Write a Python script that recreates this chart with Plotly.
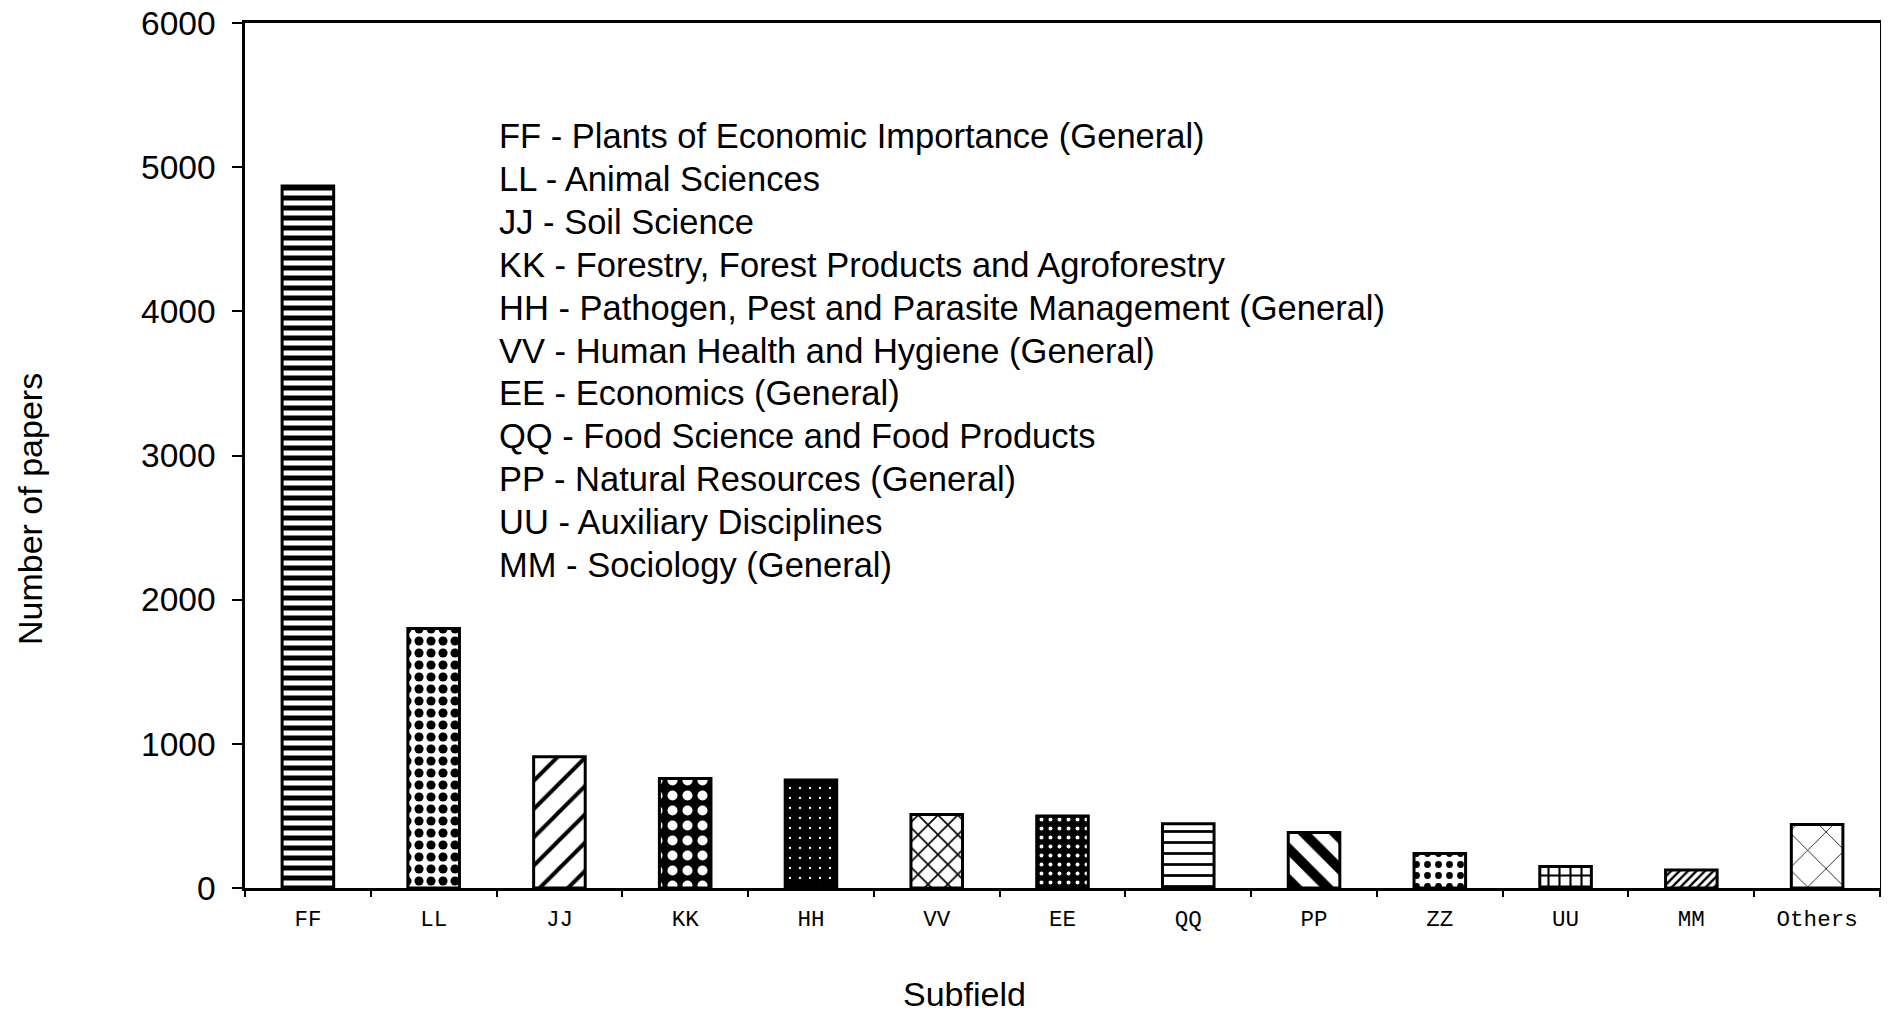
import plotly.graph_objects as go

# ---- data ----
categories = ["FF", "LL", "JJ", "KK", "HH", "VV", "EE", "QQ", "PP", "ZZ", "UU", "MM", "Others"]
papers = [4870, 1800, 910, 760, 750, 510, 500, 445, 385, 240, 150, 125, 440]

key_lines = [
    "FF - Plants of Economic Importance (General)",
    "LL - Animal Sciences",
    "JJ - Soil Science",
    "KK - Forestry, Forest Products and Agroforestry",
    "HH - Pathogen, Pest and Parasite Management (General)",
    "VV - Human Health and Hygiene (General)",
    "EE - Economics (General)",
    "QQ - Food Science and Food Products",
    "PP - Natural Resources (General)",
    "UU - Auxiliary Disciplines",
    "MM - Sociology (General)",
]

y_ticks = [0, 1000, 2000, 3000, 4000, 5000, 6000]

# ---- styling (fill patterns per bar) ----
pat_shape = ["-", ".", "/", ".", ".", "x", ".", "-", "\\", ".", "+", "/", "x"]
pat_fg = ["black", "black", "black", "white", "white", "black", "white",
          "black", "black", "black", "black", "black", "black"]
pat_bg = ["white", "white", "white", "black", "black", "white", "black",
          "white", "white", "white", "white", "white", "white"]
pat_size = [10, 12, 20, 15, 10, 14, 9, 11, 22, 11, 11, 6, 26]
pat_solid = [0.5, 0.45, 0.2, 0.35, 0.04, 0.22, 0.15, 0.25, 0.45, 0.3, 0.35, 0.4, 0.06]

SANS = "Liberation Sans, Arial, sans-serif"
MONO = "Liberation Mono, Courier New, monospace"

# page offset (default body margin) and plot-area geometry in figure pixels
OFF = 8
W, H = 1881, 1004
L, R, T, B = 237, 9, 15, 124
PW, PH = W - L - R, H - T - B


def px_x(x):
    # screen x -> paper coordinate
    return (x - OFF - L) / PW


def px_y(y):
    # screen y -> paper coordinate
    return (H - B - (y - OFF)) / PH


fig = go.Figure()
fig.add_trace(go.Bar(
    x=categories,
    y=papers,
    width=0.41,
    marker=dict(
        color="white",
        line=dict(color="black", width=3),
        pattern=dict(
            shape=pat_shape,
            fgcolor=pat_fg,
            bgcolor=pat_bg,
            size=pat_size,
            solidity=pat_solid,
            fillmode="replace",
        ),
    ),
    hoverinfo="x+y",
))

annotations = [
    dict(
        text="Number of papers",
        xref="paper", yref="paper",
        x=px_x(30), y=px_y(509),
        xanchor="center", yanchor="middle",
        textangle=-90,
        showarrow=False,
        font=dict(family=SANS, size=34, color="black"),
    ),
    dict(
        text="Subfield",
        xref="paper", yref="paper",
        x=px_x(964), y=px_y(994),
        xanchor="center", yanchor="middle",
        showarrow=False,
        font=dict(family=SANS, size=34, color="black"),
    ),
]
for i, line in enumerate(key_lines):
    annotations.append(dict(
        text=line,
        xref="paper", yref="paper",
        x=px_x(497), y=px_y(136 + i * 42.9),
        xanchor="left", yanchor="middle",
        align="left",
        showarrow=False,
        font=dict(family=SANS, size=34.5, color="black"),
    ))

fig.update_layout(
    width=W,
    height=H,
    margin=dict(l=L, r=R, t=T, b=B),
    paper_bgcolor="white",
    plot_bgcolor="white",
    showlegend=False,
    font=dict(family=SANS, color="black"),
    xaxis=dict(
        type="category",
        range=[-0.5, len(categories) - 0.5],
        automargin=False,
        showline=True,
        linecolor="black",
        linewidth=2.5,
        mirror=True,
        ticks="outside",
        tickson="boundaries",
        ticklen=6,
        tickwidth=1.5,
        tickcolor="black",
        ticklabelstandoff=8,
        ticklabeloverflow="allow",
        tickfont=dict(family=MONO, size=22.5, color="black"),
        showgrid=False,
        zeroline=False,
    ),
    yaxis=dict(
        range=[0, 6000],
        tickvals=y_ticks,
        automargin=False,
        showline=True,
        linecolor="black",
        linewidth=2.5,
        mirror=True,
        ticks="outside",
        ticklen=10,
        tickwidth=2,
        tickcolor="black",
        ticklabelstandoff=10,
        ticklabeloverflow="allow",
        tickfont=dict(family=SANS, size=33.5, color="black"),
        showgrid=False,
        zeroline=False,
    ),
    annotations=annotations,
)

fig.write_html("out.html")
